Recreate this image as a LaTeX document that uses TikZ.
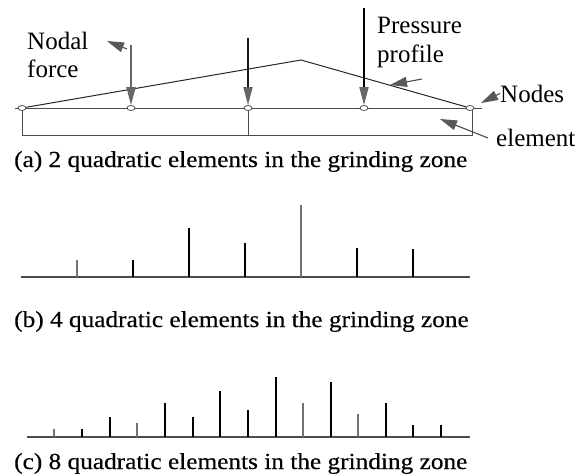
\documentclass[tikz,border=0pt]{standalone}
\usepackage{fontspec}
\setmainfont{Liberation Serif}
\newfontfamily\capfont[FakeStretch=1.10,FakeBold=0.4]{Liberation Serif}
\usetikzlibrary{arrows.meta,shapes.geometric}
\begin{document}
\begin{tikzpicture}[x=1pt,y=-1pt,
  nd/.style={draw=black!70, fill=white, ellipse, inner sep=0pt, minimum width=8pt, minimum height=5pt, line width=0.8pt},
  force/.style={line width=1.8pt, -{Triangle[length=18pt,width=9pt,color=black!60]}},
  ptr/.style={line width=1.1pt, draw=black!70, -{Triangle[length=17pt,width=10pt,color=black!65]}},
  lbl/.style={anchor=base west, inner sep=0pt, font=\fontsize{25}{30}\selectfont},
  captxt/.style={anchor=base west, inner sep=0pt, font=\fontsize{23}{27}\capfont},
  bar/.style={line width=2.6pt},
  lbar/.style={line width=1.8pt, draw=black!55}]
\useasboundingbox (0,0) rectangle (585,474);

% (a) two elements with pressure profile
\draw[black!70, line width=1pt] (15,108) -- (482,108);
\draw[black!70, line width=1pt] (22,108) rectangle (472,135);
\draw[black!70, line width=0.8pt] (248,108) -- (248,135);
\coordinate (peak) at (301,60);
\node[nd] (n1) at (22,108) {};
\node[nd] (n2) at (131,108) {};
\node[nd] (n3) at (248,108) {};
\node[nd] (n4) at (364,108) {};
\node[nd] (n5) at (470,108) {};
\draw[black!85, line width=1pt] (n1) -- (peak) -- (n5);
\coordinate (f2) at (131,45);
\coordinate (f3) at (248,38);
\coordinate (f4) at (364,8);
\draw[force, black!60] (f2) -- (n2);
\draw[force, black!90] (f3) -- (n3);
\draw[force, black] (f4) -- (n4);

\node[lbl] (nodal) at (27,49) {Nodal};
\node[lbl] (forcetxt) at (27,77) {force};
\node[lbl] (press) at (377,33) {Pressure};
\node[lbl] (prof) at (377,62) {profile};
\node[lbl] (nodes) at (500,102) {Nodes};
\node[lbl] (elem) at (496,146) {element};
\coordinate (pa) at (127,49);
\coordinate (pb) at (107,41);
\draw[ptr] (pa) -- (pb);
\coordinate (pc) at (422,79);
\coordinate (pd) at (390,85);
\draw[ptr] (pc) -- (pd);
\coordinate (pe) at (481,103);
\draw[ptr] (nodes.west) -- (pe);
\coordinate (pf) at (488,138);
\coordinate (pg) at (440,119);
\draw[ptr] (pf) -- (pg);
\node[captxt] (capa) at (14,167) {(a) 2 quadratic elements in the grinding zone};

% (b) four elements
\draw[black!70, line width=1.2pt] (21,277) -- (470,277);
\foreach \x/\t/\s in {77/260/lbar, 133/260/bar, 189/228/bar, 245/243/bar,
    301/205/lbar, 357/248/bar, 413/249/bar}
  \draw[\s] (\x,277) -- (\x,\t);
\node[captxt] (capb) at (14,327) {(b) 4 quadratic elements in the grinding zone};

% (c) eight elements
\draw[black!70, line width=1.2pt] (27,437) -- (470,437);
\foreach \x/\t/\s in {54/429/lbar, 82/429/bar, 110/417/bar, 137/423/lbar,
    165/403/bar, 193/417/bar, 220/391/bar, 248/410/bar, 276/377/bar,
    303/403/lbar, 331/382/bar, 358/414/lbar, 386/403/bar, 413/425/bar, 441/425/bar}
  \draw[\s] (\x,437) -- (\x,\t);
\node[captxt] (capc) at (14,469) {(c) 8 quadratic elements in the grinding zone};
\end{tikzpicture}
\end{document}
